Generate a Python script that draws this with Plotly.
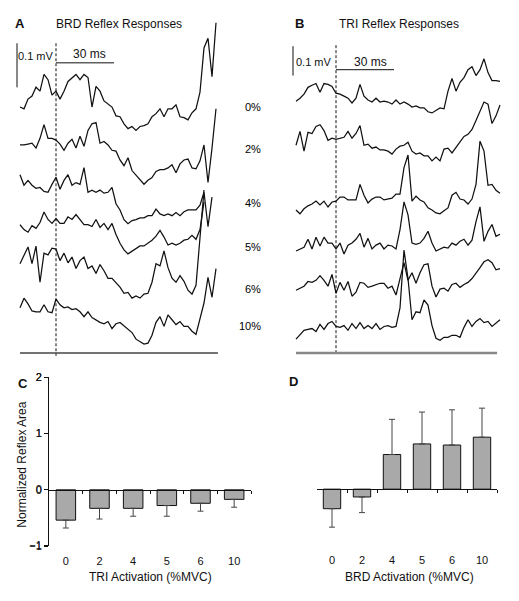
import numpy as np
import plotly.graph_objects as go

# ---------------- data ----------------
levels = ["0%", "2%", "4%", "5%", "6%", "10%"]

# BRD EMG traces (panel A), microvolts relative to each trace's pre-stimulus level
brd_0 = [-18, -22, 0, 7, 27, 18, 56, 44, 9, 18, 0, 18, 40, 49, 56, 44, 56, 49, -18, 29,
         18, -4, -11, -18, -38, -40, -56, -67, -62, -71, -62, -60, -56, -40, -33, -22, -40, -22, -22, -13,
         -40, -42, -47, -31, -22, 16, 116, 138, 51, 173]
brd_2 = [-4, -4, -2, 0, -11, 11, 42, 11, 11, 7, -2, -16, 0, 9, -11, 16, -7, 29, 44, 47,
         0, 4, -4, -16, -18, -38, -51, -33, -62, -73, -82, -93, -84, -78, -64, -60, -60, -56, -49, -67,
         -47, -38, -36, -56, -58, -40, -4, -89, -11, 78]
brd_4 = [22, -2, 9, -2, -9, -7, -16, -18, 0, 16, -11, 9, 22, -2, 4, 0, 38, -18, -13, -18,
         -13, -20, -18, -7, -44, -58, -80, -89, -82, -80, -76, -76, -71, -71, -56, -67, -71, -67, -71, -64,
         -71, -62, -58, -58, -58, -47, -18, -96, -29, None]
brd_5 = [4, -7, -13, 2, -4, 9, 33, 16, 7, 18, 7, 7, 22, 16, 27, 16, 4, 4, 0, 16,
         -2, 7, -7, 7, -18, -38, -53, -62, -56, -51, -44, -44, -38, -31, -22, -9, -24, -42, -38, -42,
         -38, -31, -29, -20, -29, -7, 56, None, None, None]
brd_6 = [-11, 7, 27, -11, 29, -53, 13, 9, 24, 22, -4, 13, -9, 4, -22, -4, 4, -22, -16, -33,
         -13, -27, -44, -44, -53, -64, -78, -76, -89, -84, -89, -80, -78, -53, -11, -16, 18, -20, -44, -53,
         -38, -51, -71, -80, -60, 40, 156, None, None, None]
brd_10 = [0, 22, 9, -7, -9, -9, 7, -9, -11, 20, 7, 0, 2, -4, -2, -9, -20, -9, -22, -27,
          -33, -36, -31, -47, -36, -33, -40, -49, -56, -71, -76, -82, -80, -62, -33, -20, -42, -16, -27, -38,
          -31, -42, -42, -53, -60, -27, 11, 69, 24, 89]

# TRI EMG traces (panel B), microvolts relative to each trace's pre-stimulus level
tri_0 = [-17, -7, 7, 30, 37, 43, 13, 43, 40, 33, 10, 7, 0, -7, -23, -7, 40, 0, -13, -20,
         -7, -20, -17, -20, -27, -13, -27, -20, -27, -37, -33, -40, -40, -53, -57, -47, -40, -43, 17, 60,
         17, 47, 63, 90, 100, 70, 90, 127, 80, 53, 53, 50]
tri_2 = [-17, 30, -37, 27, 23, 47, 53, 33, 0, 7, 3, 7, 10, 30, 7, 23, 50, -17, -13, -27,
         -23, -33, -33, -37, -47, -30, -20, -17, -7, -37, -47, -43, -53, -53, -70, -57, -70, -30, -27, -43,
         -23, -7, 13, 20, 37, 67, 97, 130, 123, 57, 83, 120]
tri_4 = [-27, -40, -23, -13, -7, 3, -10, 3, -17, 0, 3, 17, 17, 7, 7, 7, 60, 23, -3, 10,
         17, 17, 7, 10, 13, 27, 27, 117, 160, 3, 20, 7, 0, -20, -27, -37, -40, -30, -20, 23,
         33, 10, 7, -7, 10, 60, 207, 173, 57, 60, 40, 30]
tri_5 = [-20, -13, -7, 20, -13, 27, -3, 27, 7, 7, -13, 7, -30, 0, 7, 20, 40, -7, 23, -13,
         0, 7, -13, 0, -3, -13, 53, 147, 103, 7, 3, 7, 23, 47, 7, -20, -13, -7, -10, 7,
         0, 13, 20, 0, 17, 80, 130, 13, 47, 70, 30, 37]
tri_6 = [-17, -10, -3, 13, 10, 17, 33, 17, -3, 37, -27, 10, -17, 13, -37, -23, 10, 7, -7, -3,
         3, 7, 7, -10, -3, -33, 23, 77, 17, 43, 7, 43, 70, 73, -3, -40, -13, -10, -20, 3,
         7, -7, 3, 10, 23, 40, 60, 80, 87, 77, 53, 57]
tri_10 = [-33, -17, -3, 0, 3, -7, 17, 0, 20, 27, 10, 7, 13, -3, 20, 3, 23, 3, 13, 3,
          20, 0, 10, 13, 7, 10, 73, 270, 173, 33, 60, 57, 100, 83, 13, -30, -37, -27, -27, -20,
          -20, -27, 7, 33, 10, 27, 37, 23, 27, 10, 23, 33]

brd_traces = [brd_0, brd_2, brd_4, brd_5, brd_6, brd_10]
tri_traces = [tri_0, tri_2, tri_4, tri_5, tri_6, tri_10]

# Normalized reflex area (panels C and D)
activation = ["0", "2", "4", "5", "6", "10"]
c_mean = [-0.54, -0.33, -0.33, -0.28, -0.24, -0.17]
c_err = [0.14, 0.19, 0.14, 0.19, 0.14, 0.14]
d_mean = [-0.35, -0.14, 0.62, 0.81, 0.79, 0.93]
d_err = [0.33, 0.28, 0.63, 0.57, 0.63, 0.52]

DT = 2.069  # ms between samples
t_brd = -18.62 + DT * np.arange(len(brd_0))
t_tri = -20.69 + DT * np.arange(len(tri_0))

# ---------------- layout geometry ----------------
W, H = 519, 601
MS_PER_PX = 30 / 58
UV_A = 100 / 45   # microvolts per pixel, panel A (0.1 mV bar)
UV_B = 100 / 30   # microvolts per pixel, panel B
FONT = "Liberation Sans, Arial, Helvetica, sans-serif"
INK = "#111111"

def fx(px):
    return px / W

def fy(py):
    return 1 - py / H

brd_rows = [95, 140, 182, 225, 258, 308]
tri_rows = [92, 137, 200, 244, 285, 330]
label_rows = [103, 146, 201, 246, 289, 327]

fig = go.Figure()

# ---- traces ----
for vals, row in zip(brd_traces, brd_rows):
    off = -row * UV_A
    y = [None if v is None else v + off for v in vals]
    fig.add_trace(go.Scatter(x=t_brd, y=y, mode="lines", xaxis="x3", yaxis="y3",
                             line=dict(color=INK, width=1.25), showlegend=False, hoverinfo="skip"))
for vals, row in zip(tri_traces, tri_rows):
    off = -row * UV_B
    y = [None if v is None else v + off for v in vals]
    fig.add_trace(go.Scatter(x=t_tri, y=y, mode="lines", xaxis="x4", yaxis="y4",
                             line=dict(color=INK, width=1.25), showlegend=False, hoverinfo="skip"))

# ---- bars ----
def one_sided(mean, err):
    plus = [e if m > 0 else 0 for m, e in zip(mean, err)]
    minus = [e if m < 0 else 0 for m, e in zip(mean, err)]
    return plus, minus

cats = list(range(len(activation)))
for mean, err, xa, ya in [(c_mean, c_err, "x", "y"), (d_mean, d_err, "x2", "y2")]:
    plus, minus = one_sided(mean, err)
    fig.add_trace(go.Bar(x=cats, y=mean, width=0.58, xaxis=xa, yaxis=ya,
                         marker=dict(color="#a9a9a9", line=dict(color=INK, width=1)),
                         error_y=dict(type="data", symmetric=False, array=plus, arrayminus=minus,
                                      color="#444", thickness=1, width=3),
                         showlegend=False, hoverinfo="skip"))
# invisible traces carrying the zero-line axes
fig.add_trace(go.Scatter(x=[None], y=[None], xaxis="x5", yaxis="y", showlegend=False, hoverinfo="skip"))
fig.add_trace(go.Scatter(x=[None], y=[None], xaxis="x6", yaxis="y2", showlegend=False, hoverinfo="skip"))

c_dom_y = [fy(551), fy(379)]
d_dom_y = [fy(550), fy(379)]

def bar_yaxis(dom):
    return dict(domain=dom, range=[-1, 2], tickvals=[-1, 0, 1, 2], ticks="outside", ticklen=4,
                tickcolor=INK, showline=True, linecolor=INK, linewidth=1, showgrid=False,
                zeroline=False, tickfont=dict(size=11, color=INK), fixedrange=True)

def bar_xaxis(dom, anchor):
    return dict(domain=dom, anchor=anchor, range=[-0.5, 5.5], tickvals=cats, ticktext=activation,
                ticks="outside", ticklen=5, tickcolor="rgba(0,0,0,0)",
                showline=False, showgrid=False, zeroline=False,
                tickfont=dict(size=11, color=INK), fixedrange=True)

def zero_axis(base, ydom):
    pos = ydom[0] + (ydom[1] - ydom[0]) / 3.0
    return dict(overlaying=base, anchor="free", position=pos, range=[-0.5, 5.5],
                tickvals=[0.5, 1.5, 2.5, 3.5, 4.5, 5.5], ticks="outside", ticklen=3,
                tickcolor=INK, showticklabels=False, showline=True, linecolor=INK,
                linewidth=1, showgrid=False, zeroline=False, fixedrange=True)

hidden = dict(visible=False, showgrid=False, zeroline=False, fixedrange=True)

layout_axes = dict(
    xaxis=bar_xaxis([fx(49), fx(251)], "y"),
    yaxis=bar_yaxis(c_dom_y),
    xaxis2=bar_xaxis([fx(317), fx(497)], "y2"),
    yaxis2=bar_yaxis(d_dom_y),
    xaxis3=dict(hidden, domain=[0, fx(260)], anchor="y3", range=[-56 * MS_PER_PX, 204 * MS_PER_PX]),
    yaxis3=dict(hidden, domain=[fy(360), 1], anchor="x3", range=[-360 * UV_A, 0]),
    xaxis4=dict(hidden, domain=[fx(260), 1], anchor="y4", range=[-76 * MS_PER_PX, 183 * MS_PER_PX]),
    yaxis4=dict(hidden, domain=[fy(360), 1], anchor="x4", range=[-360 * UV_B, 0]),
    xaxis5=zero_axis("x", c_dom_y),
    xaxis6=zero_axis("x2", d_dom_y),
)

# ---- shapes: dashed stimulus lines, scale bars, baselines ----
shapes = []
def seg(xr, yr, x0, y0, x1, y1, color=INK, width=1, dash=None):
    ln = dict(color=color, width=width)
    if dash:
        ln["dash"] = dash
    shapes.append(dict(type="line", xref=xr, yref=yr, x0=x0, y0=y0, x1=x1, y1=y1, line=ln))

# panel A
seg("x3", "y3", 0, -38 * UV_A, 0, -357 * UV_A, width=1, dash="3px,2px")
seg("x3", "y3", -39 * MS_PER_PX, -38 * UV_A, -39 * MS_PER_PX, -38 * UV_A - 100)
seg("x3", "y3", 0, -58 * UV_A, 30, -58 * UV_A)
seg("x3", "y3", t_brd[0], -354 * UV_A, t_brd[-1] + 1, -354 * UV_A, color="#444", width=1.5)
# panel B
seg("x4", "y4", 0, -40 * UV_B, 0, -354 * UV_B, width=1, dash="3px,2px")
seg("x4", "y4", -43 * MS_PER_PX, -41 * UV_B, -43 * MS_PER_PX, -41 * UV_B - 100)
seg("x4", "y4", 0, -65 * UV_B, 30, -65 * UV_B)
seg("x4", "y4", t_tri[0], -354 * UV_B, t_tri[-1] - 1.5, -354 * UV_B, color="#888", width=2.5)

# ---- text ----
anns = []
def ann(text, px, py, size, bold=False, xanchor="center", angle=0, color=INK):
    if bold:
        text = "<b>" + text + "</b>"
    anns.append(dict(text=text, x=fx(px), y=fy(py), xref="paper", yref="paper",
                     xanchor=xanchor, yanchor="middle", showarrow=False, textangle=angle,
                     font=dict(size=size, color=color, family=FONT)))

ann("A", 19.5, 18, 13, bold=True)
ann("BRD Reflex Responses", 119, 18, 12)
ann("B", 299.5, 18, 13, bold=True)
ann("TRI Reflex Responses", 398.5, 18, 12)
ann("0.1 mV", 35.5, 51, 11)
ann("30 ms", 89.5, 49, 12)
ann("0.1 mV", 314, 57, 11)
ann("30 ms", 370, 57, 12)
for lab, row in zip(levels, label_rows):
    ann(lab, 263, row, 11, xanchor="right", color="black")
ann("C", 22.5, 385, 13, bold=True)
ann("D", 293, 383, 13, bold=True)
ann("Normalized Reflex Area", 22, 468, 12, angle=-90)
ann("TRI Activation (%MVC)", 150, 583, 12)
ann("BRD Activation (%MVC)", 409, 583, 12)

fig.update_layout(
    width=W, height=H, margin=dict(l=0, r=0, t=0, b=0),
    paper_bgcolor="white", plot_bgcolor="white",
    font=dict(family=FONT, color=INK),
    shapes=shapes, annotations=anns, bargap=0, showlegend=False,
    **layout_axes,
)

fig.write_html("out.html", config={"displayModeBar": False, "staticPlot": True},
               post_script="document.body.style.margin='0px';document.body.style.overflow='hidden';")
